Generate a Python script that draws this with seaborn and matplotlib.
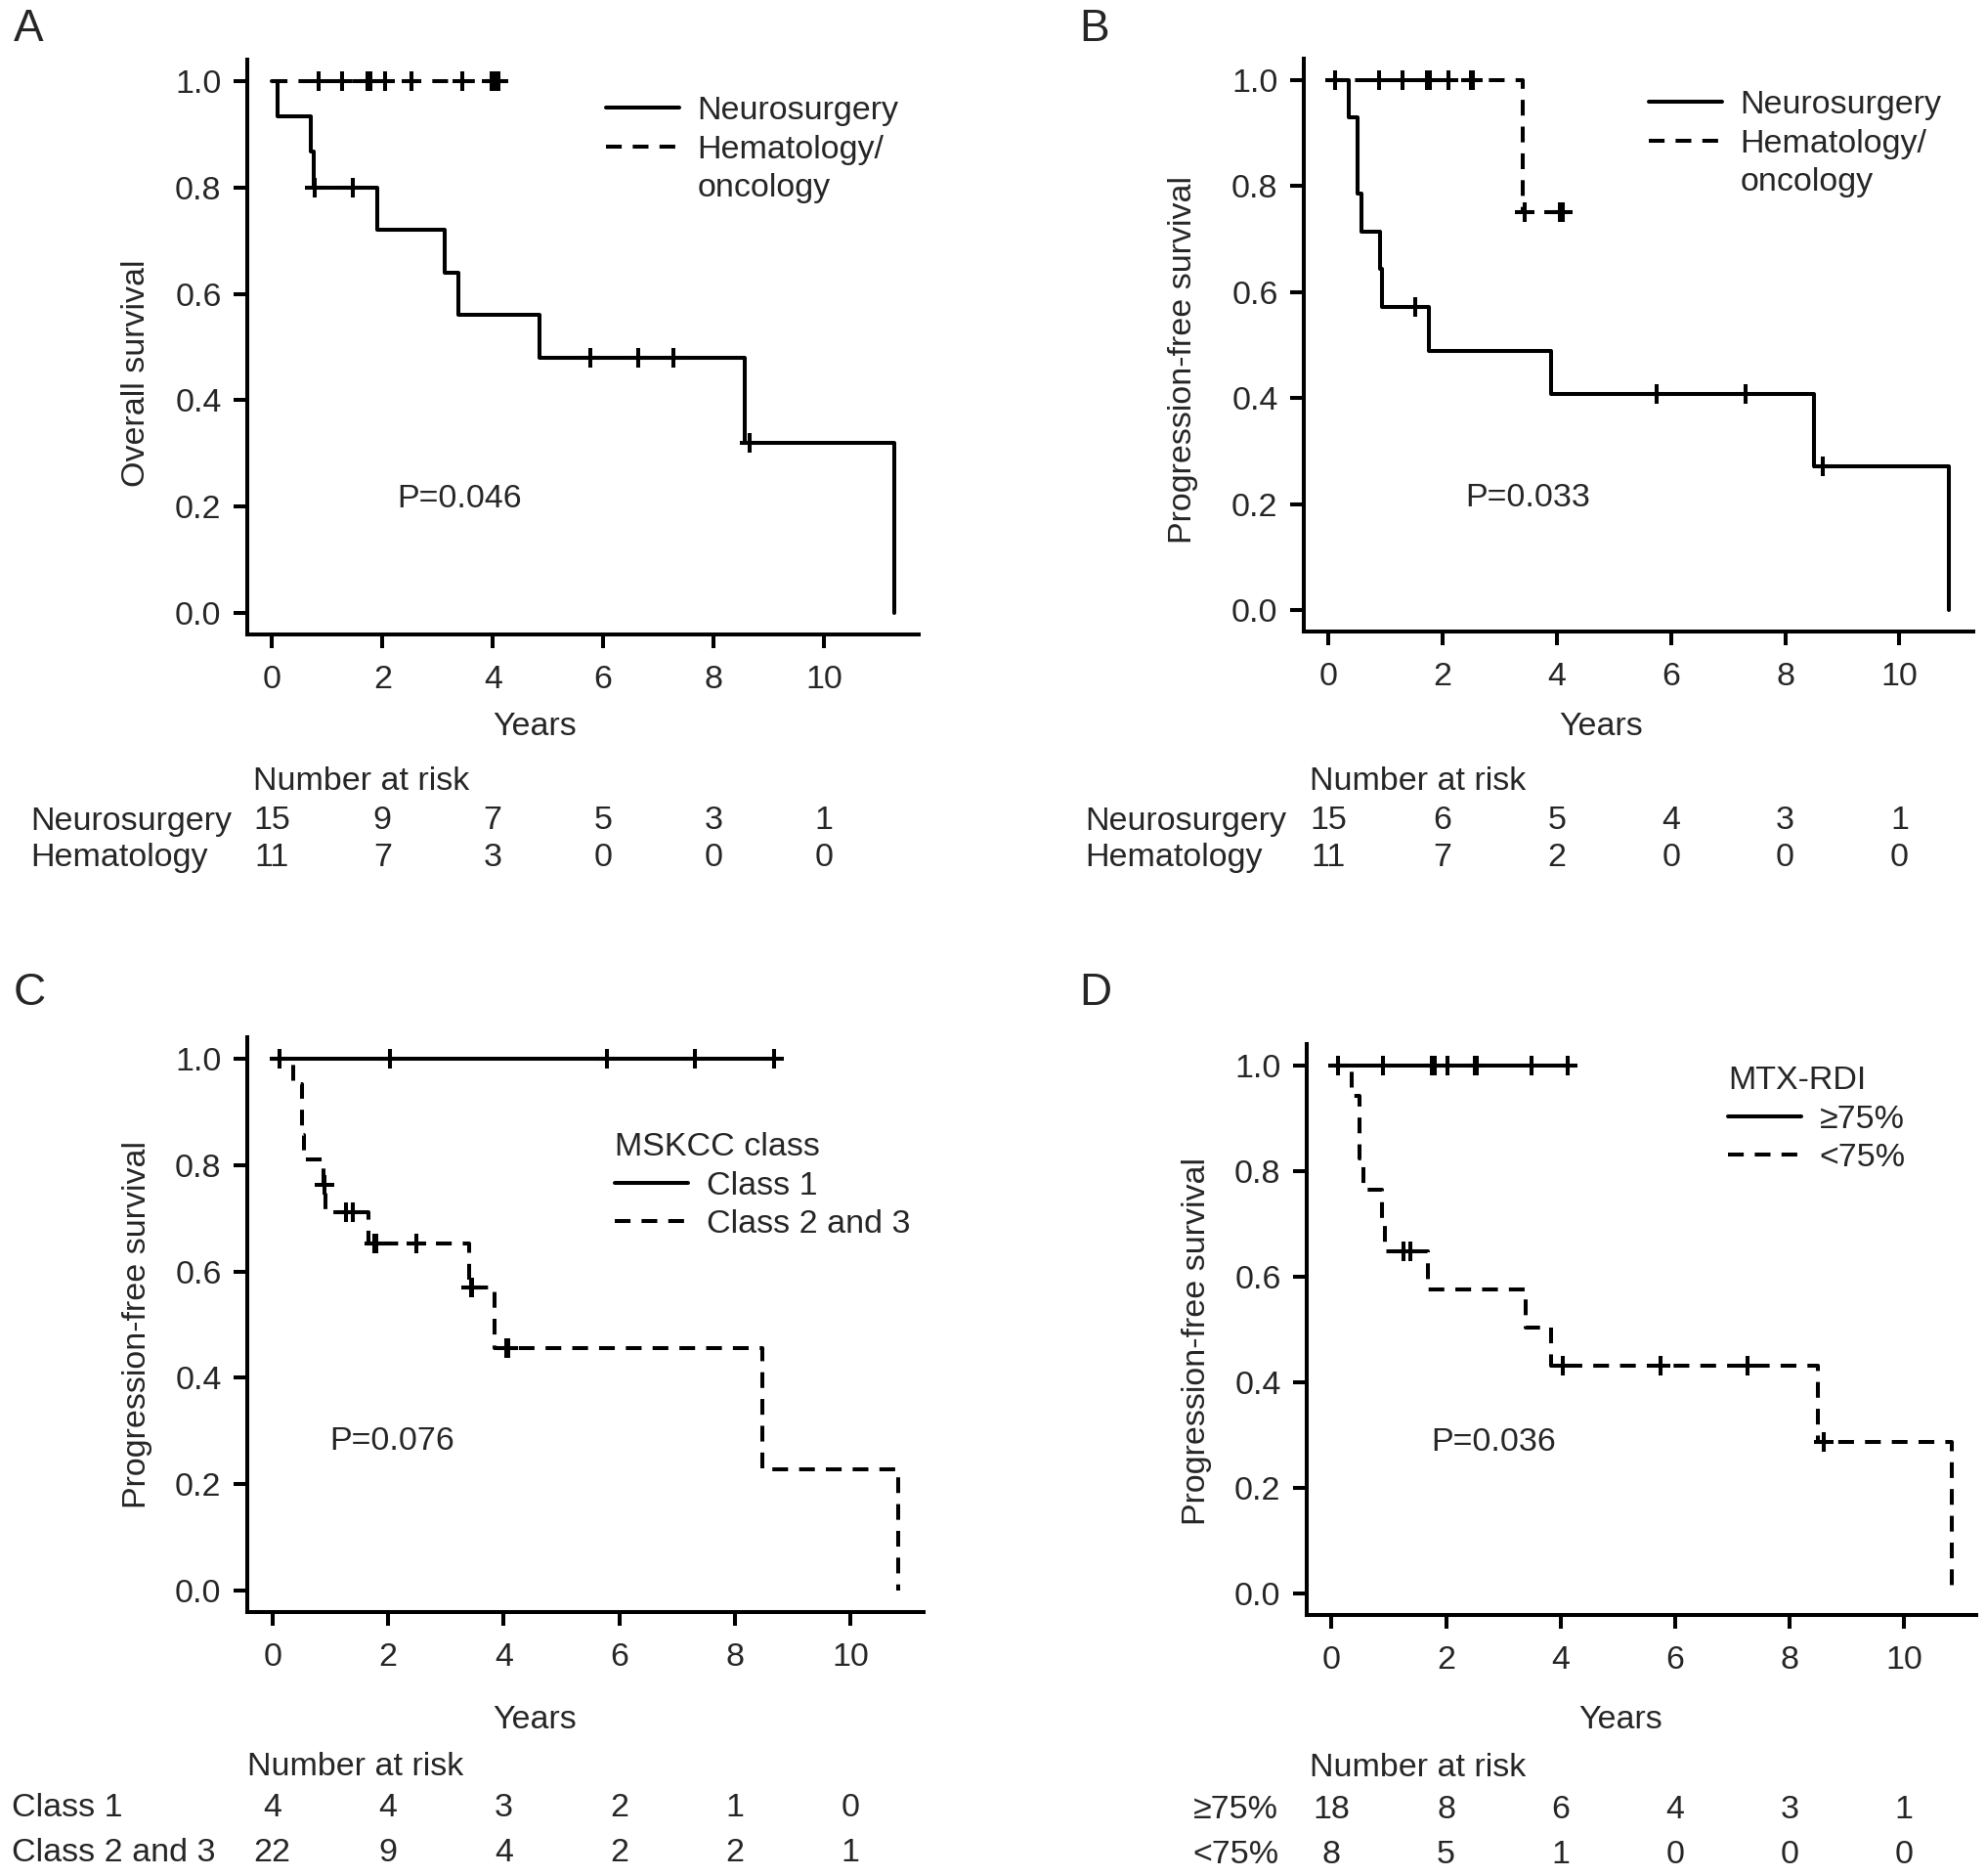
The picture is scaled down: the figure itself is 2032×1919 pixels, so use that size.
import numpy as np
import matplotlib
matplotlib.use("Agg")
import matplotlib.pyplot as plt
import matplotlib.transforms as mtransforms
from matplotlib.lines import Line2D
import seaborn as sns

# ---- datos (tiempos en anos, 1 = evento, 0 = censura) ----
# Panel A: supervivencia global por servicio
a_neuro_t = [0.10, 0.70, 0.75, 0.78, 1.47, 1.91, 3.13, 3.38, 4.84, 5.76, 6.64, 7.28, 8.56, 8.65, 11.27]
a_neuro_e = [1, 1, 1, 0, 0, 1, 1, 1, 1, 0, 0, 0, 1, 0, 1]
a_hem_t = [0.85, 1.26, 1.73, 1.78, 2.05, 2.52, 3.45, 3.98, 4.04, 4.07, 4.10]
a_hem_e = [0, 0, 0, 0, 0, 0, 0, 0, 0, 0, 0]
a_risk_neuro = [15, 9, 7, 5, 3, 1]
a_risk_hem = [11, 7, 3, 0, 0, 0]

# Panel B: supervivencia libre de progresion por servicio
b_neuro_t = [0.11, 0.36, 0.51, 0.51, 0.57, 0.90, 0.93, 1.52, 1.75, 3.90, 5.75, 7.30, 8.50, 8.65, 10.86]
b_neuro_e = [0, 1, 1, 1, 1, 1, 1, 0, 1, 1, 0, 0, 1, 0, 1]
b_hem_t = [0.89, 1.30, 1.73, 1.78, 2.10, 2.50, 2.53, 3.40, 3.43, 4.06, 4.10]
b_hem_e = [0, 0, 0, 0, 0, 0, 0, 1, 0, 0, 0]
b_risk_neuro = [15, 6, 5, 4, 3, 1]
b_risk_hem = [11, 7, 2, 0, 0, 0]

# Panel C: clase MSKCC
c_cls1_t = [2.04, 5.78, 7.30, 8.67]
c_cls1_e = [0, 0, 0, 0]
c_cls23_t = [0.12, 0.36, 0.51, 0.51, 0.54, 0.88, 0.90, 0.92, 1.28, 1.39, 1.67, 1.76, 1.79,
             2.49, 3.40, 3.43, 3.45, 3.85, 4.05, 4.08, 8.48, 10.83]
c_cls23_e = [0, 1, 1, 1, 1, 1, 0, 1, 0, 0, 1, 0, 0, 0, 1, 0, 0, 1, 0, 0, 1, 1]
c_risk_cls1 = [4, 4, 3, 2, 1, 0]
c_risk_cls23 = [22, 9, 4, 2, 2, 1]

# Panel D: MTX-RDI
d_solid_t = [0.90, 1.75, 1.80, 2.03, 2.51, 2.53, 3.49, 4.12]
d_solid_e = [0, 0, 0, 0, 0, 0, 0, 0]
d_dash_t = [0.12, 0.35, 0.49, 0.49, 0.55, 0.89, 0.93, 1.26, 1.37, 1.69, 3.39, 3.84,
            4.04, 5.75, 7.27, 8.50, 8.60, 10.83]
d_dash_e = [0, 1, 1, 1, 1, 1, 1, 0, 0, 1, 1, 1, 0, 0, 0, 1, 0, 1]
d_risk_hi = [18, 8, 6, 4, 3, 1]
d_risk_lo = [8, 5, 1, 0, 0, 0]

risk_times = [0, 2, 4, 6, 8, 10]

# ---- estilo ----
sns.set_style("ticks")
plt.rcParams['font.family'] = ['Liberation Sans', 'DejaVu Sans']
FS = 24.5
LW = 2.9
DASH = (0, (4, 2.8))

W, H = 2032, 1919
fig = plt.figure(figsize=(W / 100, H / 100), dpi=100)


def fx(px):
    return px / W


def fy(py):
    return 1 - py / H


def km(times, events):
    # Kaplan-Meier simple: pasos y marcas de censura
    t = np.asarray(times, dtype=float)
    e = np.asarray(events, dtype=int)
    n_risk = len(t)
    s = 1.0
    xs, ys = [0.0], [1.0]
    cx, cy = [], []
    for ut in np.unique(t):
        m = t == ut
        d = int(e[m].sum())
        c = int(m.sum()) - d
        if d > 0:
            s *= (n_risk - d) / n_risk
            xs.append(ut)
            ys.append(s)
        cx += [ut] * c
        cy += [s] * c
        n_risk -= int(m.sum())
    if xs[-1] < t.max():
        xs.append(t.max())
        ys.append(s)
    return xs, ys, cx, cy


def curva(ax, times, events, ls, label):
    xs, ys, cx, cy = km(times, events)
    sns.lineplot(x=xs, y=ys, drawstyle='steps-post', estimator=None, sort=False,
                 color='black', linewidth=LW, linestyle=ls, ax=ax, label=label)
    if cx:
        sns.scatterplot(x=cx, y=cy, marker='+', s=200, color='black',
                        linewidth=LW, ax=ax, legend=False, zorder=3)
    return max(times)


def panel(box, series, extra_label, letter, letter_pos, ylabel, ylabel_pos, years_pos,
          pval, pval_xy, legend_pos, legend_title, risk_label_pos, risk_rows, risk_label_ha):
    l, r, t, b = box
    ax = fig.add_axes([fx(l), fy(b), fx(r) - fx(l), (b - t) / H])
    tmax = 0
    for times, events, ls, label in series:
        tmax = max(tmax, curva(ax, times, events, ls, label))
    ax.set_xlim(-0.04 * tmax, 1.04 * tmax)
    ax.set_ylim(-0.04, 1.04)
    ax.set_xticks(risk_times)
    ax.set_yticks(np.arange(0, 1.01, 0.2))
    ax.set_yticklabels([f"{v:.1f}" for v in np.arange(0, 1.01, 0.2)])
    ax.tick_params(direction='out', length=10, width=LW, labelsize=FS, color='black')
    ax.tick_params(axis='y', pad=9)
    ax.tick_params(axis='x', pad=12)
    sns.despine(ax=ax)
    for sp in ['left', 'bottom']:
        ax.spines[sp].set_linewidth(LW)
        ax.spines[sp].set_color('black')
    ax.set_xlabel('')
    ax.set_ylabel('')

    ax.text(pval_xy[0], pval_xy[1], pval, fontsize=FS, ha='center', va='center')

    handles, labels = ax.get_legend_handles_labels()
    if extra_label:
        # segunda linea de la etiqueta sin simbolo
        handles.append(Line2D([], [], linestyle='none'))
        labels.append(extra_label)
    leg = ax.legend(handles, labels, loc='upper left',
                    bbox_to_anchor=(fx(legend_pos[0]), fy(legend_pos[1])),
                    bbox_transform=fig.transFigure, frameon=False, fontsize=FS,
                    handlelength=2.2, handletextpad=0.55, borderpad=0, borderaxespad=0,
                    labelspacing=0.25, title=legend_title, title_fontsize=FS,
                    alignment='left')
    for h in leg.get_lines():
        h.set_linewidth(LW)

    fig.text(fx(letter_pos[0]), fy(letter_pos[1]), letter, fontsize=33, ha='left', va='center')
    fig.text(fx(ylabel_pos[0]), fy(ylabel_pos[1]), ylabel, fontsize=FS, rotation=90,
             ha='center', va='center')
    fig.text(fx(years_pos[0]), fy(years_pos[1]), 'Years', fontsize=FS, ha='center', va='center')

    # tabla de numero en riesgo
    fig.text(fx(risk_label_pos[0]), fy(risk_label_pos[1]), 'Number at risk', fontsize=FS,
             ha='left', va='center')
    trans = mtransforms.blended_transform_factory(ax.transData, fig.transFigure)
    for name, name_x, row_y, counts in risk_rows:
        fig.text(fx(name_x), fy(row_y), name, fontsize=FS, ha=risk_label_ha, va='center')
        for tt, n in zip(risk_times, counts):
            ax.text(tt, fy(row_y), str(n), transform=trans, fontsize=FS,
                    ha='center', va='center', clip_on=False)
    return ax


# Panel A
panel((253, 940, 61, 649),
      [(a_neuro_t, a_neuro_e, '-', 'Neurosurgery'),
       (a_hem_t, a_hem_e, DASH, 'Hematology/')], 'oncology',
      'A', (14, 30), 'Overall survival', (140, 382), (547, 743),
      'P=0.046', (3.4, 0.215), (620, 98), None, (259, 800),
      [('Neurosurgery', 31, 840, a_risk_neuro), ('Hematology', 31, 877, a_risk_hem)], 'left')

# Panel B
panel((1334, 2019, 60, 646),
      [(b_neuro_t, b_neuro_e, '-', 'Neurosurgery'),
       (b_hem_t, b_hem_e, DASH, 'Hematology/')], 'oncology',
      'B', (1104, 30), 'Progression-free survival', (1211, 368), (1638, 743),
      'P=0.033', (3.49, 0.212), (1687, 92), None, (1340, 800),
      [('Neurosurgery', 1110, 840, b_risk_neuro), ('Hematology', 1110, 877, b_risk_hem)], 'left')

# Panel C
panel((253, 945, 1061, 1649),
      [(c_cls1_t, c_cls1_e, '-', 'Class 1'),
       (c_cls23_t, c_cls23_e, DASH, 'Class 2 and 3')], None,
      'C', (14, 1016), 'Progression-free survival', (140, 1355), (547, 1759),
      'P=0.076', (2.07, 0.28), (629, 1158), 'MSKCC class', (253, 1807),
      [('Class 1', 12, 1849, c_risk_cls1), ('Class 2 and 3', 12, 1895, c_risk_cls23)], 'left')

# Panel D
panel((1337, 2022, 1068, 1652),
      [(d_solid_t, d_solid_e, '-', '\u226575%'),
       (d_dash_t, d_dash_e, DASH, '<75%')], None,
      'D', (1104, 1016), 'Progression-free survival', (1224, 1372), (1658, 1759),
      'P=0.036', (2.83, 0.287), (1768, 1090), 'MTX-RDI', (1340, 1808),
      [('\u226575%', 1308, 1851, d_risk_hi), ('<75%', 1308, 1897, d_risk_lo)], 'right')

fig.savefig('out.png', dpi=100, facecolor='white')
plt.close(fig)
